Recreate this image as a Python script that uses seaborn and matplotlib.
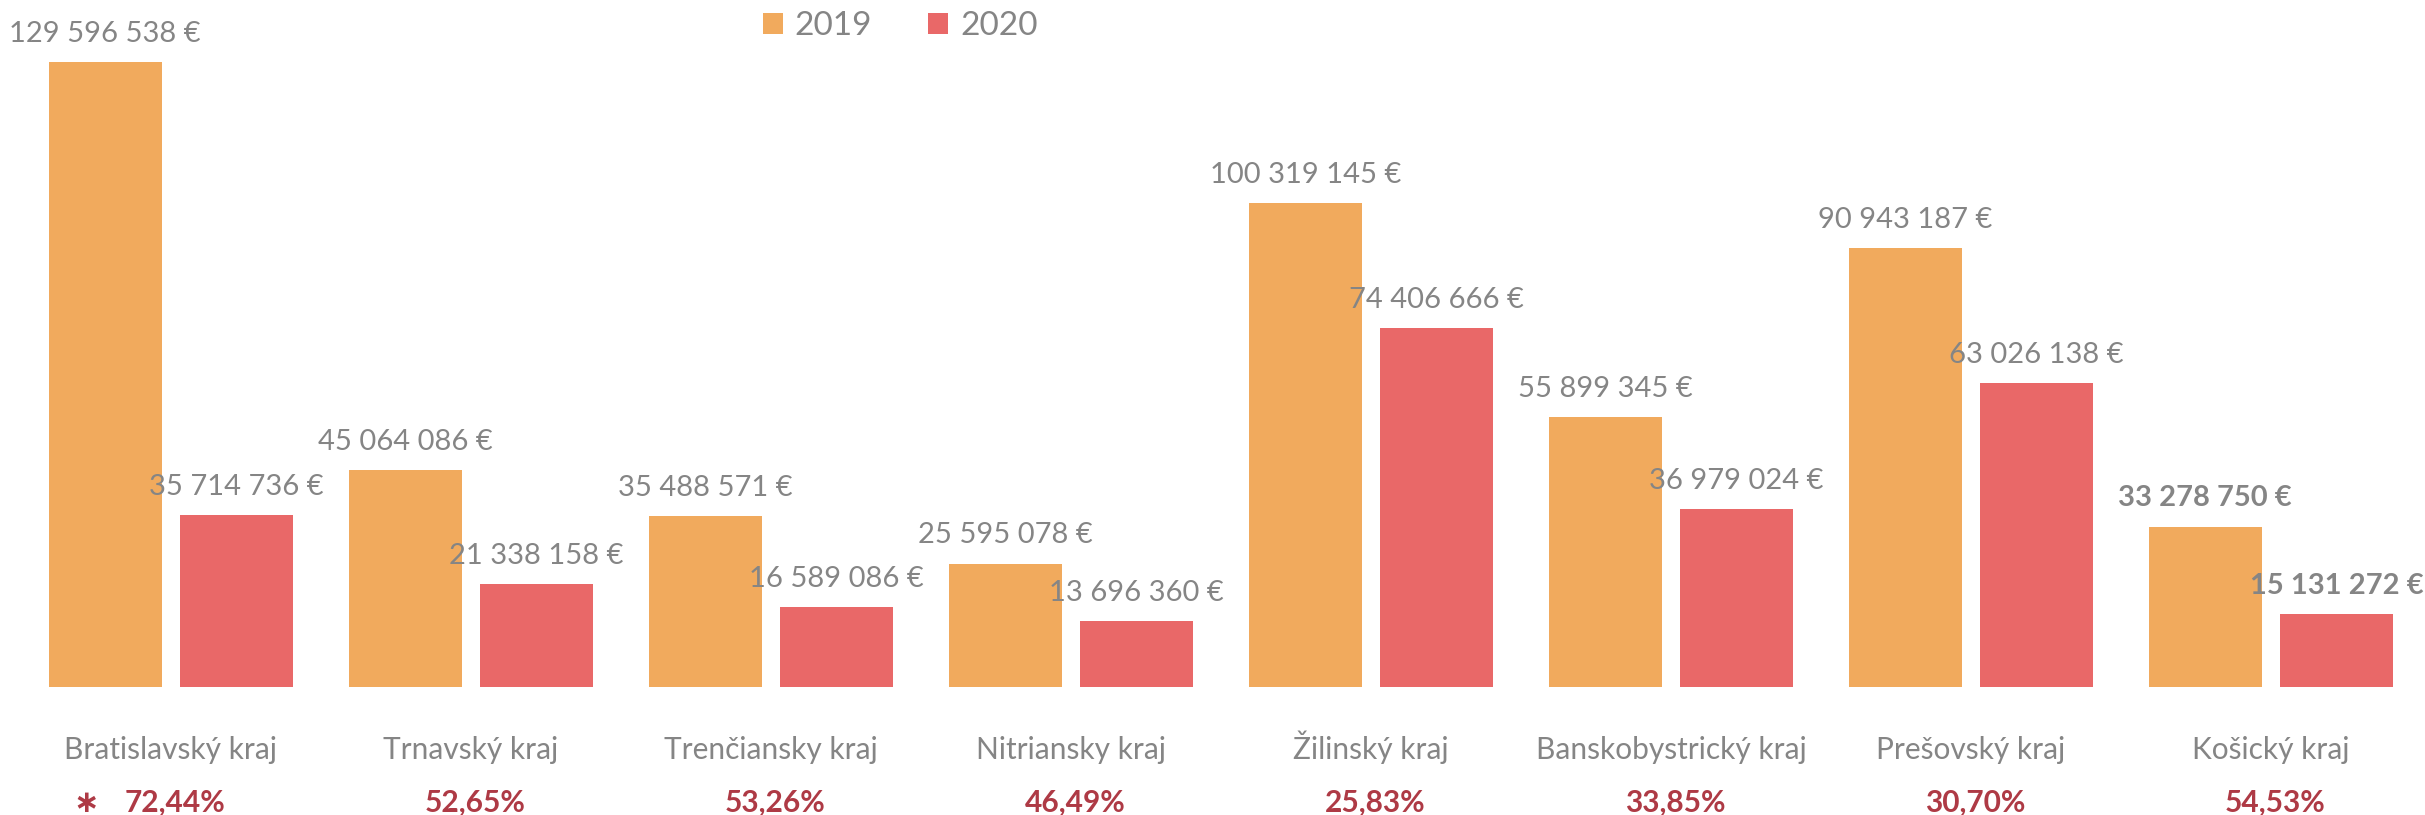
import numpy as np
import pandas as pd
import matplotlib
matplotlib.use("Agg")
import matplotlib.pyplot as plt
import matplotlib.transforms as mtransforms
import seaborn as sns

# --- data ---------------------------------------------------------------
regions = ["Bratislavský kraj", "Trnavský kraj", "Trenčiansky kraj", "Nitriansky kraj",
           "Žilinský kraj", "Banskobystrický kraj", "Prešovský kraj", "Košický kraj"]
years = ["2019", "2020"]
values_2019 = [129596538, 45064086, 35488571, 25595078, 100319145, 55899345, 90943187, 33278750]
values_2020 = [35714736, 21338158, 16589086, 13696360, 74406666, 36979024, 63026138, 15131272]
drop_pct = ["72,44%", "52,65%", "53,26%", "46,49%", "25,83%", "33,85%", "30,70%", "54,53%"]
bold_value_regions = ["Košický kraj"]
footnote_mark = "∗"

# --- style --------------------------------------------------------------
sns.set_style("white")
plt.rcParams["font.family"] = ["Lato", "DejaVu Sans"]

color_2019 = "#F1AA5D"
color_2020 = "#E96868"
text_gray = "#858585"
pct_red = "#AE3A45"

df = pd.DataFrame({
    "region": regions * 2,
    "year": [years[0]] * len(regions) + [years[1]] * len(regions),
    "value": values_2019 + values_2020,
})

W, H = 2425, 815
fig = plt.figure(figsize=(W / 100, H / 100), dpi=100)
ax = fig.add_axes([21 / W, 128 / H, 2400 / W, 1 - 128 / H])

sns.barplot(data=df, x="region", y="value", hue="year", order=regions,
            hue_order=years, palette=[color_2019, color_2020],
            width=0.876, gap=0.137, linewidth=0, saturation=1, ax=ax)

ax.set_xlim(-0.5, len(regions) - 0.5)
ax.set_ylim(0, max(values_2019) * 687 / 625)
for s in ax.spines.values():
    s.set_visible(False)
ax.set_xticks([])
ax.set_yticks([])
ax.set_xlabel("")
ax.set_ylabel("")


def fmt_eur(v):
    return f"{v:,}".replace(",", " ") + " €"


# value labels above each bar
for container, vals in zip(ax.containers, [values_2019, values_2020]):
    for bar, v, reg in zip(container.patches, vals, regions):
        cx = bar.get_x() + bar.get_width() / 2
        ax.annotate(fmt_eur(v), xy=(cx, v), xytext=(0, 14.5), textcoords="offset points",
                    ha="center", va="baseline", fontsize=21, color=text_gray,
                    fontweight="bold" if reg in bold_value_regions else "normal")

# category names and percentage change below the axis
trans = mtransforms.blended_transform_factory(ax.transData, fig.transFigure)
for i, (reg, pct) in enumerate(zip(regions, drop_pct)):
    ax.text(i, 1 - 759 / H, reg, transform=trans, ha="center", va="baseline",
            fontsize=21.5, color=text_gray)
    ax.text(i + 0.015, 1 - 812 / H, pct, transform=trans, ha="center", va="baseline",
            fontsize=21.5, fontweight="bold", color=pct_red)
ax.text(-0.283, 1 - 812 / H, footnote_mark, transform=trans, ha="center", va="baseline",
        fontsize=22, fontweight="bold", color=pct_red, family=["DejaVu Sans"])

# legend at the top
handles, labels = ax.get_legend_handles_labels()
ax.legend(handles, labels, loc="center", bbox_to_anchor=(900 / W, 1 - 26 / H),
          bbox_transform=fig.transFigure, ncol=2, frameon=False,
          fontsize=24, labelcolor=text_gray, handlelength=0.6, handleheight=0.6,
          handletextpad=0.35, columnspacing=1.7, borderpad=0)

fig.savefig("out.png", dpi=100, facecolor="white")
